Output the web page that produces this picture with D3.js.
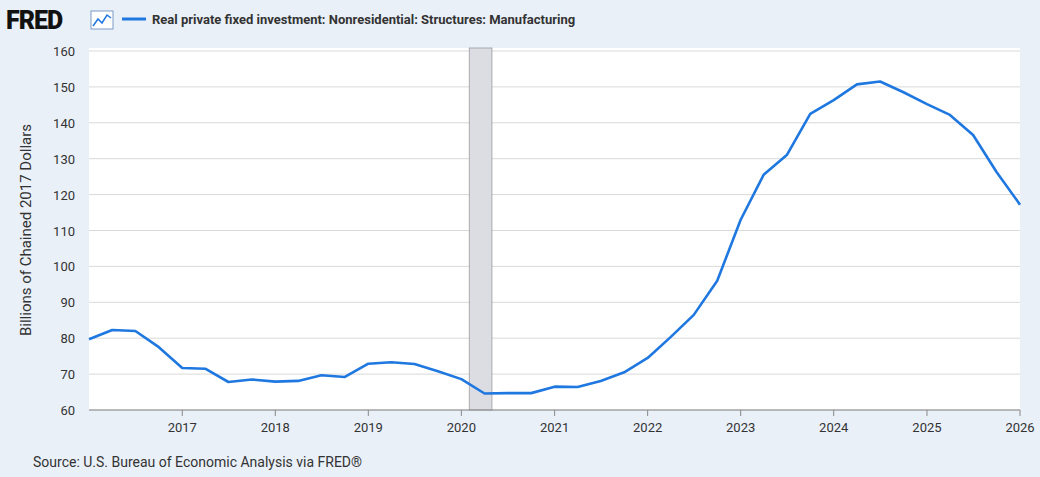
<!DOCTYPE html><html><head><meta charset="utf-8"><script src="https://d3js.org/d3.v7.min.js"></script>
<style>body{margin:0;background:#eaf0f8;font-family:Roboto,sans-serif}</style></head><body><svg id="c" width="1040" height="477"></svg>
<script>
const dates=["2016-01-01","2016-04-01","2016-07-01","2016-10-01","2017-01-01","2017-04-01","2017-07-01","2017-10-01","2018-01-01","2018-04-01","2018-07-01","2018-10-01","2019-01-01","2019-04-01","2019-07-01","2019-10-01","2020-01-01","2020-04-01","2020-07-01","2020-10-01","2021-01-01","2021-04-01","2021-07-01","2021-10-01","2022-01-01","2022-04-01","2022-07-01","2022-10-01","2023-01-01","2023-04-01","2023-07-01","2023-10-01","2024-01-01","2024-04-01","2024-07-01","2024-10-01","2025-01-01","2025-04-01","2025-07-01","2025-10-01","2026-01-01"];
const values=[79.7,82.3,82.0,77.5,71.7,71.5,67.8,68.5,67.9,68.1,69.7,69.2,72.9,73.3,72.8,70.8,68.6,64.6,64.7,64.7,66.5,66.4,68.1,70.5,74.5,80.3,86.5,96.0,113.0,125.5,131.0,142.5,146.3,150.7,151.5,148.5,145.2,142.2,136.6,126.3,117.2];
const yTicks=[60,70,80,90,100,110,120,130,140,150,160];
const xTickYears=[2017,2018,2019,2020,2021,2022,2023,2024,2025,2026];
const recession=["2020-02-01","2020-04-30"];
const title="Real private fixed investment: Nonresidential: Structures: Manufacturing";
const svg=d3.select("#c");
const L=89,R=1020,T=51,B=410;
svg.append("rect").attr("x",L).attr("y",T-3).attr("width",R-L).attr("height",B-T+3).attr("fill","#fff");
const x=d3.scaleTime().domain([new Date(2016,0,1),new Date(2026,0,1)]).range([L,R]);
const y=d3.scaleLinear().domain([60,160]).range([B,T]);
svg.append("g").selectAll("line").data(yTicks).join("line").attr("x1",L).attr("x2",R).attr("y1",d=>y(d)).attr("y2",d=>y(d)).attr("stroke","#d9d9d9");
svg.append("rect").attr("x",x(new Date(recession[0]))).attr("y",T-3).attr("width",x(new Date(recession[1]))-x(new Date(recession[0]))).attr("height",B-T+3).attr("fill","#dcdde3").attr("stroke","#9a9aa0").attr("stroke-width",0.8);
svg.append("g").selectAll("text").data(yTicks).join("text").attr("x",L-14).attr("y",d=>y(d)+5).attr("text-anchor","end").attr("font-size",13).attr("fill","#333").text(d=>d);
const xt=xTickYears.map(v=>new Date(v,0,1));
svg.append("g").selectAll("line").data(xt).join("line").attr("x1",d=>x(d)).attr("x2",d=>x(d)).attr("y1",B).attr("y2",B+6).attr("stroke","#888");
svg.append("g").selectAll("text").data(xt).join("text").attr("x",d=>x(d)).attr("y",B+22).attr("text-anchor","middle").attr("font-size",13).attr("fill","#333").text(d=>d.getFullYear());
svg.append("line").attr("x1",L).attr("x2",R).attr("y1",B).attr("y2",B).attr("stroke","#888");
const line=d3.line().x((d,i)=>x(new Date(dates[i]))).y(d=>y(d));
svg.append("path").datum(values).attr("d",line).attr("fill","none").attr("stroke","#1f77e0").attr("stroke-width",2.6).attr("stroke-linejoin","round");
svg.append("text").attr("transform","translate(31,230) rotate(-90)").attr("text-anchor","middle").attr("font-size",15).attr("fill","#333").text("Billions of Chained 2017 Dollars");
svg.append("text").attr("x",33).attr("y",467).attr("font-size",14).attr("fill","#333").text("Source: U.S. Bureau of Economic Analysis via FRED®");
svg.append("text").attr("x",6).attr("y",29).attr("font-size",25).attr("font-weight",900).attr("fill","#111").attr("letter-spacing",-1).text("FRED");
svg.append("rect").attr("x",91).attr("y",11).attr("width",22).attr("height",18).attr("fill","#fff").attr("stroke","#7a9cc8");
svg.append("path").attr("d","M93,26 L98,19 L102,23 L107,15 L111,18").attr("fill","none").attr("stroke","#1f77e0").attr("stroke-width",1.5);
svg.append("line").attr("x1",122).attr("x2",146).attr("y1",19).attr("y2",19).attr("stroke","#1f77e0").attr("stroke-width",3);
svg.append("text").attr("x",152).attr("y",24).attr("font-size",13).attr("font-weight",700).attr("fill","#333").text(title);
</script></body></html>
